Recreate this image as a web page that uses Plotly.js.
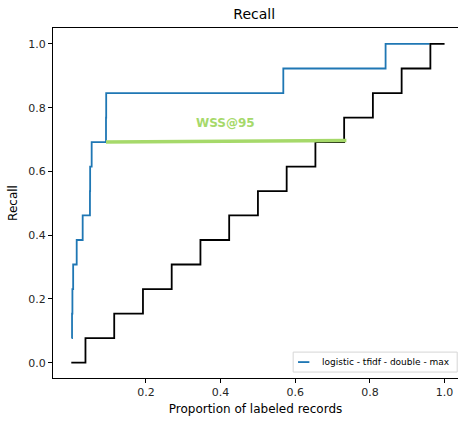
<!DOCTYPE html>
<html>
<head>
<meta charset="utf-8">
<script src="https://cdn.plot.ly/plotly-3.0.1.min.js"></script>
<style>
  html, body { margin: 0; padding: 0; background: #fff; }
  #chart { width: 458px; height: 423px; }
</style>
</head>
<body>
<div id="chart"></div>
<script>
// Recall curve of the model (step line)
const modelX = [0.001, 0.002, 0.003, 0.005, 0.0145, 0.0305, 0.050, 0.0505, 0.0546, 0.093, 0.0935, 0.568, 0.842, 0.960];
const modelY = [0.077, 0.154, 0.231, 0.308, 0.385, 0.462, 0.538, 0.615, 0.692, 0.769, 0.846, 0.923, 1.0, 1.0];

// Random-order baseline (step line)
const randomX = [0.0, 0.038, 0.115, 0.192, 0.269, 0.346, 0.423, 0.500, 0.577, 0.654, 0.731, 0.808, 0.885, 0.962, 1.0];
const randomY = [0.0, 0.077, 0.154, 0.231, 0.308, 0.385, 0.462, 0.538, 0.615, 0.692, 0.769, 0.846, 0.923, 1.0, 1.0];

// Work saved over sampling marker
const wssX = [0.093, 0.737];
const wssY = [0.692, 0.697];
const wssLabel = "WSS@95";
const wssLabelPos = [0.412, 0.752];

const modelName = "logistic - tfidf - double - max";
const xTicks = [0.2, 0.4, 0.6, 0.8, 1.0];
const yTicks = [0.0, 0.2, 0.4, 0.6, 0.8, 1.0];

const FONT = "DejaVu Sans, sans-serif";
const BLUE = "#1f77b4";
const GREEN = "#a6d96a";

const traces = [
  {
    x: modelX, y: modelY, type: "scatter", mode: "lines",
    line: { color: BLUE, width: 1.8, shape: "hv" },
    name: modelName, showlegend: false
  },
  {
    x: randomX, y: randomY, type: "scatter", mode: "lines",
    line: { color: "#000000", width: 1.8, shape: "hv" },
    showlegend: false
  },
  {
    x: wssX, y: wssY, type: "scatter", mode: "lines",
    line: { color: GREEN, width: 3.5 },
    showlegend: false
  }
];

// Compact legend box in the lower right corner of the axes
const legendBox = { x0: 0.593, x1: 0.998, y0: 0.017, y1: 0.074 };
const legendMidY = (legendBox.y0 + legendBox.y1) / 2;

const layout = {
  width: 458, height: 423,
  margin: { l: 53, r: 0, t: 28, b: 45 },
  paper_bgcolor: "#ffffff", plot_bgcolor: "#ffffff",
  font: { family: FONT, size: 11, color: "#262626" },
  showlegend: false,
  title: {
    text: "Recall", font: { family: FONT, size: 14, color: "#000" },
    x: 0.555, xanchor: "center", xref: "container",
    y: 0.967, yanchor: "middle", yref: "container"
  },
  xaxis: {
    range: [-0.049, 1.036],
    tickvals: xTicks, ticktext: xTicks.map(v => v.toFixed(1)),
    ticks: "outside", ticklen: 4, tickwidth: 1, tickcolor: "#000",
    showline: true, linecolor: "#000", linewidth: 1, mirror: true,
    showgrid: false, zeroline: false,
    tickfont: { family: FONT, size: 11, color: "#262626" },
    title: { text: "Proportion of labeled records", font: { family: FONT, size: 12, color: "#000" }, standoff: 6 }
  },
  yaxis: {
    range: [-0.048, 1.05],
    tickvals: yTicks, ticktext: yTicks.map(v => v.toFixed(1)),
    ticks: "outside", ticklen: 4, tickwidth: 1, tickcolor: "#000",
    showline: true, linecolor: "#000", linewidth: 1, mirror: false,
    showgrid: false, zeroline: false,
    tickfont: { family: FONT, size: 11, color: "#262626" },
    title: { text: "Recall", font: { family: FONT, size: 12, color: "#000" }, standoff: 8 }
  },
  shapes: [
    {
      type: "rect", xref: "paper", yref: "paper",
      x0: legendBox.x0, x1: legendBox.x1, y0: legendBox.y0, y1: legendBox.y1,
      line: { color: "#d6d6d6", width: 1 }, fillcolor: "rgba(255,255,255,0.9)", layer: "above"
    },
    {
      type: "line", xref: "paper", yref: "paper",
      x0: legendBox.x0 + 0.012, x1: legendBox.x0 + 0.04, y0: legendMidY, y1: legendMidY,
      line: { color: BLUE, width: 1.8 }, layer: "above"
    }
  ],
  annotations: [
    {
      x: wssLabelPos[0], y: wssLabelPos[1], xref: "x", yref: "y",
      text: "<b>" + wssLabel + "</b>", showarrow: false,
      font: { family: FONT, size: 12, color: GREEN }
    },
    {
      x: legendBox.x0 + 0.067, y: legendMidY, xref: "paper", yref: "paper",
      xanchor: "left", yanchor: "middle", showarrow: false,
      text: modelName,
      font: { family: FONT, size: 9, color: "#000" }
    }
  ]
};

Plotly.newPlot("chart", traces, layout, { displayModeBar: false, staticPlot: true });
</script>
</body>
</html>
